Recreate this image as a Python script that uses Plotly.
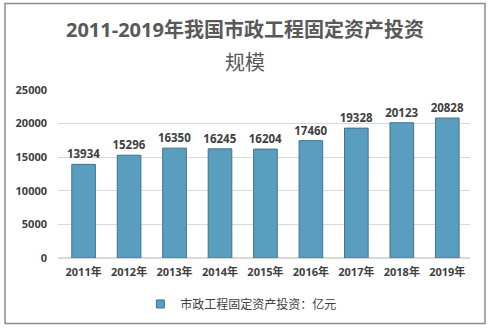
import plotly.graph_objects as go

years = ["2011年", "2012年", "2013年", "2014年", "2015年", "2016年", "2017年", "2018年", "2019年"]
values = [13934, 15296, 16350, 16245, 16204, 17460, 19328, 20123, 20828]
series_name = "市政工程固定资产投资：亿元"
y_ticks = [0, 5000, 10000, 15000, 20000, 25000]
title_line1 = "2011-2019年我国市政工程固定资产投资"
title_line2 = "规模"

FONT = "Open Sans, Noto Sans CJK SC, sans-serif"
BAR = "#5A9EBF"

fig = go.Figure()
fig.add_trace(go.Bar(
    x=years, y=values, name=series_name, showlegend=False,
    marker=dict(color=BAR, line=dict(color="#41728A", width=1)),
    text=[str(v) for v in values], textposition="outside", constraintext="none",
    textfont=dict(size=11.5, color="#404040", family=FONT, weight="bold"),
    cliponaxis=False,
))
# legend entry with small square symbol
fig.add_trace(go.Scatter(
    x=[years[0]], y=[None], mode="markers", name=series_name,
    marker=dict(symbol="square", size=8, color=BAR, line=dict(color="#41728A", width=1)),
))

fig.update_layout(
    width=490, height=329,
    margin=dict(l=58, r=20, t=90, b=70),
    paper_bgcolor="white", plot_bgcolor="white",
    font=dict(family=FONT, color="#404040"),
    bargap=0.48,
    showlegend=True,
    legend=dict(orientation="h", x=0.445, xanchor="center", y=-0.266, yanchor="middle",
                font=dict(size=12, color="#404040"), itemwidth=30),
    xaxis=dict(tickfont=dict(size=11, color="#404040", weight="bold"), showline=False, ticks="",
               ticklabelstandoff=6),
    yaxis=dict(range=[0, 25000], tickvals=y_ticks, showgrid=True, gridcolor="#D9D9D9",
               zeroline=True, zerolinecolor="#D9D9D9",
               tickfont=dict(size=11, color="#404040", weight="bold"),
               ticklabelstandoff=10, tickformat="d"),
    annotations=[
        dict(text=title_line1, xref="paper", yref="paper", x=0.454, y=1.361,
             xanchor="center", yanchor="middle", showarrow=False,
             font=dict(size=20, color="#595959", family=FONT, weight="bold")),
        dict(text=title_line2, xref="paper", yref="paper", x=0.454, y=1.166,
             xanchor="center", yanchor="middle", showarrow=False,
             font=dict(size=20, color="#595959", family=FONT)),
    ],
    shapes=[dict(type="rect", xref="paper", yref="paper", x0=-0.1286, x1=1.0364, y0=-0.39, y1=1.515,
                 line=dict(color="#8C8C8C", width=1.5), fillcolor="rgba(0,0,0,0)", layer="below")],
)
fig.write_html("out.html")
